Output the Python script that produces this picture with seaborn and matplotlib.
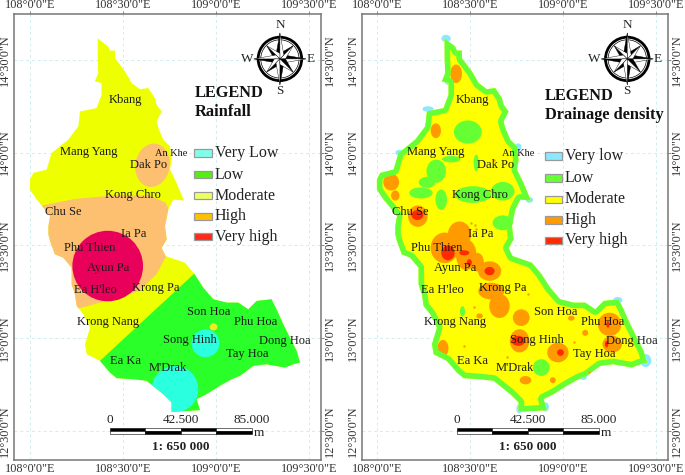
import numpy as np
import matplotlib
matplotlib.use("Agg")
import matplotlib.pyplot as plt
from matplotlib.patches import Polygon, Ellipse, Circle, Rectangle
import seaborn as sns

sns.set_style("white")
plt.rcParams["font.family"] = ["Liberation Serif", "DejaVu Serif"]

# province outline, lon / lat
outline_lon = [108.364, 108.385, 108.421, 108.430, 108.457, 108.457, 108.511, 108.547, 108.591, 108.636,
               108.672, 108.681, 108.708, 108.681, 108.690, 108.717, 108.753, 108.762, 108.753, 108.788,
               108.828, 108.771, 108.744, 108.726, 108.735, 108.708, 108.729, 108.833, 108.883, 108.932,
               108.986, 109.057, 109.120, 109.174, 109.219, 109.299, 109.326, 109.362, 109.398, 109.434,
               109.452, 109.416, 109.371, 109.272, 109.201, 109.129, 109.084, 109.021, 108.950, 108.896,
               108.914, 108.860, 108.762, 108.762, 108.717, 108.627, 108.556, 108.466, 108.430, 108.376,
               108.305, 108.296, 108.323, 108.287, 108.251, 108.242, 108.224, 108.224, 108.179, 108.134,
               108.108, 108.099, 108.099, 108.108, 108.063, 108.036, 108.000, 108.000, 108.018, 108.090,
               108.116, 108.206, 108.260, 108.269, 108.358, 108.385, 108.385, 108.349, 108.367, 108.364]
outline_lat = [14.616, 14.599, 14.572, 14.550, 14.550, 14.509, 14.437, 14.375, 14.342, 14.348,
               14.294, 14.258, 14.222, 14.168, 14.133, 14.070, 14.034, 13.962, 13.909, 13.837,
               13.742, 13.747, 13.694, 13.604, 13.532, 13.487, 13.443, 13.407, 13.348, 13.272,
               13.210, 13.192, 13.192, 13.156, 13.201, 13.210, 13.156, 13.075, 13.003, 12.932,
               12.869, 12.860, 12.842, 12.860, 12.851, 12.797, 12.779, 12.744, 12.699, 12.672,
               12.613, 12.609, 12.604, 12.654, 12.699, 12.771, 12.779, 12.785, 12.815, 12.878,
               12.914, 12.968, 13.057, 13.129, 13.174, 13.236, 13.290, 13.380, 13.434, 13.452,
               13.523, 13.559, 13.604, 13.658, 13.715, 13.747, 13.801, 13.855, 13.891, 13.909,
               13.998, 14.070, 14.142, 14.222, 14.240, 14.312, 14.375, 14.384, 14.428, 14.518]

place_names = ["Kbang", "Mang Yang", "An Khe", "Dak Po", "Kong Chro", "Chu Se", "Ia Pa", "Phu Thien", "Ayun Pa",
               "Ea H'leo", "Krong Pa", "Krong Nang", "Son Hoa", "Phu Hoa", "Song Hinh", "Dong Hoa", "Tay Hoa",
               "Ea Ka", "M'Drak"]
place_lon = [108.514, 108.317, 108.758, 108.636, 108.556, 108.179, 108.556, 108.319, 108.421,
             108.353, 108.677, 108.421, 108.959, 109.215, 108.860, 109.371, 109.170, 108.516, 108.740]
place_lat = [14.281, 14.002, 13.998, 13.936, 13.774, 13.679, 13.559, 13.487, 13.380,
             13.258, 13.272, 13.089, 13.143, 13.088, 12.993, 12.984, 12.914, 12.878, 12.837]

# rainfall zones
high_lon = [108.063, 108.240, 108.450, 108.640, 108.730, 108.790, 108.729, 108.680, 108.590, 108.470, 108.300, 108.200, 107.950]
high_lat = [13.715, 13.750, 13.770, 13.770, 13.730, 13.600, 13.435, 13.345, 13.255, 13.220, 13.170, 13.150, 13.500]
low_lon = [108.376, 108.883, 109.100, 109.600, 109.600, 108.300]
low_lat = [12.878, 13.348, 13.450, 13.400, 12.500, 12.500]

rain_labels = ["Very Low", "Low", "Moderate", "High", "Very high"]
rain_colors = ["#80ffe8", "#55ee11", "#eeff66", "#ffc000", "#ff2a1a"]
rain_lat = [14.000, 13.882, 13.769, 13.656, 13.548]

drain_labels = ["Very low", "Low", "Moderate", "High", "Very high"]
drain_colors = ["#8ce8ff", "#66ff33", "#ffff00", "#ff9a00", "#ff2a00"]
drain_lat = [13.980, 13.864, 13.748, 13.635, 13.527]

# drainage blobs: lon, lat, width, height
low_blobs = [(108.489, 14.111, .150, .125), (108.319, 13.900, .105, .125), (108.400, 13.965, .100, .035),
             (108.237, 13.783, .125, .060), (108.270, 13.840, .090, .060), (108.346, 13.747, .062, .110),
             (108.516, 13.774, .195, .090), (108.677, 13.792, .125, .100), (108.677, 13.622, .110, .080),
             (108.884, 12.842, .090, .090), (108.534, 13.945, .027, .090), (108.460, 13.145, .027, .055)]
high_blobs = [(108.426, 14.425, .063, .100), (108.317, 14.118, .055, .080), (108.077, 13.841, .085, .090),
              (108.099, 13.769, .045, .055), (108.220, 13.658, .105, .115), (108.364, 13.487, .150, .165),
              (108.444, 13.559, .125, .140), (108.480, 13.450, .110, .165), (108.606, 13.362, .125, .105),
              (108.615, 13.254, .140, .090), (108.659, 13.174, .110, .130), (108.776, 13.111, .090, .090),
              (108.767, 12.986, .105, .125), (108.973, 12.923, .115, .105), (108.355, 12.946, .060, .090),
              (109.251, 13.075, .125, .125), (109.265, 12.968, .105, .090), (109.120, 13.029, .032, .032),
              (108.799, 12.774, .062, .045), (108.946, 12.774, .032, .032), (108.552, 13.120, .035, .027),
              (109.045, 13.108, .035, .027), (108.540, 13.410, .070, .100)]
red_blobs = [(108.218, 13.664, .063, .054), (108.382, 13.460, .072, .080), (108.470, 13.460, .054, .027),
             (108.497, 13.408, .027, .036), (108.606, 13.362, .054, .045), (108.760, 12.986, .072, .054),
             (108.987, 12.923, .036, .036), (109.242, 13.075, .018, .036), (109.235, 12.968, .018, .036)]
blue_blobs = [(108.372, 14.615, .050, .040), (108.120, 14.000, .040, .030), (108.275, 14.235, .060, .030),
              (108.760, 14.030, .035, .040), (108.820, 13.745, .040, .030), (109.445, 12.880, .060, .070),
              (109.295, 13.205, .050, .035), (108.905, 12.630, .040, .050), (108.765, 12.620, .030, .050),
              (109.110, 12.790, .040, .030), (108.385, 14.380, .040, .030)]
speck_lon = [108.525, 108.533, 108.505, 108.630, 108.790, 108.815, 108.520, 108.330, 108.470, 109.060, 109.140, 108.700]
speck_lat = [13.610, 13.590, 13.620, 13.960, 13.270, 13.240, 13.170, 13.100, 12.960, 12.980, 12.820, 12.900]

x_ticks = [108.0, 108.5, 109.0, 109.5]
x_labels = ["108°0'0\"E", "108°30'0\"E", "109°0'0\"E", "109°30'0\"E"]
y_ticks = [12.5, 13.0, 13.5, 14.0, 14.5]
y_labels = ["12°30'0\"N", "13°0'0\"N", "13°30'0\"N", "14°0'0\"N", "14°30'0\"N"]

W, H = 685, 475
fig = plt.figure(figsize=(6.85, 4.75), dpi=100)


def make_axes(left, right, xlim):
    ax = fig.add_axes([left / W, 1 - 460 / H, (right - left) / W, 446 / H])
    ax.set_xlim(*xlim)
    ax.set_ylim(12.344, 14.747)
    ax.set_xticks(x_ticks)
    ax.set_xticklabels(x_labels, fontsize=8.8, color="#333333")
    ax.set_yticks(y_ticks)
    ax.set_yticklabels(y_labels, fontsize=8.8, color="#333333", rotation=90, va="center")
    ax.tick_params(top=True, right=True, labeltop=True, labelright=True, length=2, width=0.6,
                   color="#777777", pad=0)
    ax.grid(True, color="#cfeeee", linestyle=(0, (3, 3)), linewidth=0.7)
    ax.set_axisbelow(True)
    for s in ax.spines.values():
        s.set_color("#777777")
        s.set_linewidth(1.1)
    return ax


def compass(ax, x0, y0):
    ax.add_patch(Circle((x0, y0), 0.117, fill=False, ec="black", lw=2.0, zorder=6))
    ax.add_patch(Circle((x0, y0), 0.103, fill=False, ec="black", lw=0.5, zorder=6))
    for ang in np.arange(0, 360, 45):
        r = 0.14 if ang % 90 == 0 else 0.1
        t = np.radians(ang)
        for side, col in ((1, "black"), (-1, "white")):
            tip = (x0 + r * np.cos(t), y0 + r * np.sin(t))
            wing = (x0 + 0.03 * np.cos(t + side * np.pi / 4), y0 + 0.03 * np.sin(t + side * np.pi / 4))
            ax.add_patch(Polygon([(x0, y0), tip, wing], fc=col, ec="black", lw=0.3, zorder=7))
    ax.text(x0, y0 + 0.185, "N", fontsize=9.5, ha="center", va="center", color="#222222")
    ax.text(x0, y0 - 0.175, "S", fontsize=9.5, ha="center", va="center", color="#222222")
    ax.text(x0 + 0.165, y0, "E", fontsize=9.5, ha="center", va="center", color="#222222")
    ax.text(x0 - 0.175, y0, "W", fontsize=9.5, ha="center", va="center", color="#222222")


def scale_bar(ax):
    x0, seg, top, bot = 108.430, 0.191, 12.516, 12.484
    mid = (top + bot) / 2
    for i in range(4):
        a, b = ("black", "white") if i % 2 == 0 else ("white", "black")
        ax.add_patch(Rectangle((x0 + i * seg, mid), seg, top - mid, fc=a, ec="black", lw=0.4, zorder=6))
        ax.add_patch(Rectangle((x0 + i * seg, bot), seg, mid - bot, fc=b, ec="black", lw=0.4, zorder=6))
    for i, lab in zip([0, 2, 4], ["0", "42.500", "85.000"]):
        ax.text(x0 + i * seg, 12.558, lab, fontsize=9.5, ha="center", va="center", color="#222222")
    ax.text(x0 + 4 * seg + 0.012, 12.490, "m", fontsize=9.5, va="center", color="#222222")
    ax.text(108.812, 12.416, "1: 650 000", fontsize=9.5, fontweight="bold", ha="center", va="center", color="#222222")


def add_legend(ax, x0, x1, xt, lats, labels, colors):
    for y, lab, col in zip(lats, labels, colors):
        ax.add_patch(Rectangle((x0, y - 0.021), x1 - x0, 0.042, fc=col, ec="#999999", lw=0.9, zorder=6))
        ax.text(xt, y, lab, fontsize=11.5, va="center", color="#222222", zorder=6)


def add_labels(ax):
    for name, lon, lat in zip(place_names, place_lon, place_lat):
        size = 7.5 if name == "An Khe" else 9
        ax.text(lon, lat, name, fontsize=size, ha="center", va="center", color="#1a1a1a", zorder=8)


outline = list(zip(outline_lon, outline_lat))

# ---- left: rainfall
ax1 = make_axes(14, 321, (107.914, 109.565))
base = Polygon(outline, fc="#eeff00", ec="none", zorder=2)
ax1.add_patch(base)
zones = [
    Polygon(list(zip(high_lon, high_lat)), fc="#fdbf70", ec="none", zorder=3),
    Polygon(list(zip(low_lon, low_lat)), fc="#2aff2a", ec="none", zorder=3),
    Ellipse((108.659, 13.932), 0.185, 0.235, angle=-10, fc="#fdbf70", ec="none", zorder=3),
    Circle((108.418, 13.389), 0.19, fc="#e8005a", ec="none", zorder=4),
    Circle((108.944, 12.973), 0.075, fc="#2affdf", ec="none", zorder=4),
    Circle((108.780, 12.726), 0.125, fc="#2affdf", ec="none", zorder=4),
    Ellipse((108.987, 13.061), 0.042, 0.038, fc="#eeee22", ec="none", zorder=4),
]
for z in zones:
    ax1.add_patch(z)
    z.set_clip_path(base)
compass(ax1, 109.344, 14.505)
ax1.text(108.887, 14.323, "LEGEND", fontsize=11.8, fontweight="bold", va="center", color="#111111")
ax1.text(108.887, 14.220, "Rainfall", fontsize=11.8, fontweight="bold", va="center", color="#111111")
add_legend(ax1, 108.883, 108.977, 108.995, rain_lat, rain_labels, rain_colors)
scale_bar(ax1)
add_labels(ax1)

# ---- right: drainage density
ax2 = make_axes(362, 668, (107.920, 109.565))
for b in blue_blobs:
    ax2.add_patch(Ellipse(b[:2], b[2], b[3], fc=drain_colors[0], ec="none", zorder=2))
base2 = Polygon(outline, fc=drain_colors[2], ec="none", zorder=3)
ax2.add_patch(base2)
for blobs, col, zo in ((low_blobs, "#66ff33", 4), (high_blobs, "#ff9a00", 5), (red_blobs, "#ff2a00", 6)):
    for b in blobs:
        e = Ellipse(b[:2], b[2], b[3], fc=col, ec="none", zorder=zo)
        ax2.add_patch(e)
        e.set_clip_path(base2)
rim = Polygon(outline, fill=False, ec="#66ff33", lw=8, joinstyle="round", zorder=5.5)
ax2.add_patch(rim)
rim.set_clip_path(base2)
sns.scatterplot(x=speck_lon, y=speck_lat, ax=ax2, color="#ff9a00", s=3, linewidth=0, zorder=6, legend=False)
ax2.set_xlim(107.920, 109.565)
ax2.set_ylim(12.344, 14.747)
compass(ax2, 109.346, 14.505)
ax2.text(108.905, 14.306, "LEGEND", fontsize=11.8, fontweight="bold", va="center", color="#111111")
ax2.text(108.905, 14.204, "Drainage density", fontsize=11.8, fontweight="bold", va="center", color="#111111")
add_legend(ax2, 108.903, 108.993, 109.011, drain_lat, drain_labels, drain_colors)
scale_bar(ax2)
add_labels(ax2)

fig.savefig("out.png", dpi=100)
